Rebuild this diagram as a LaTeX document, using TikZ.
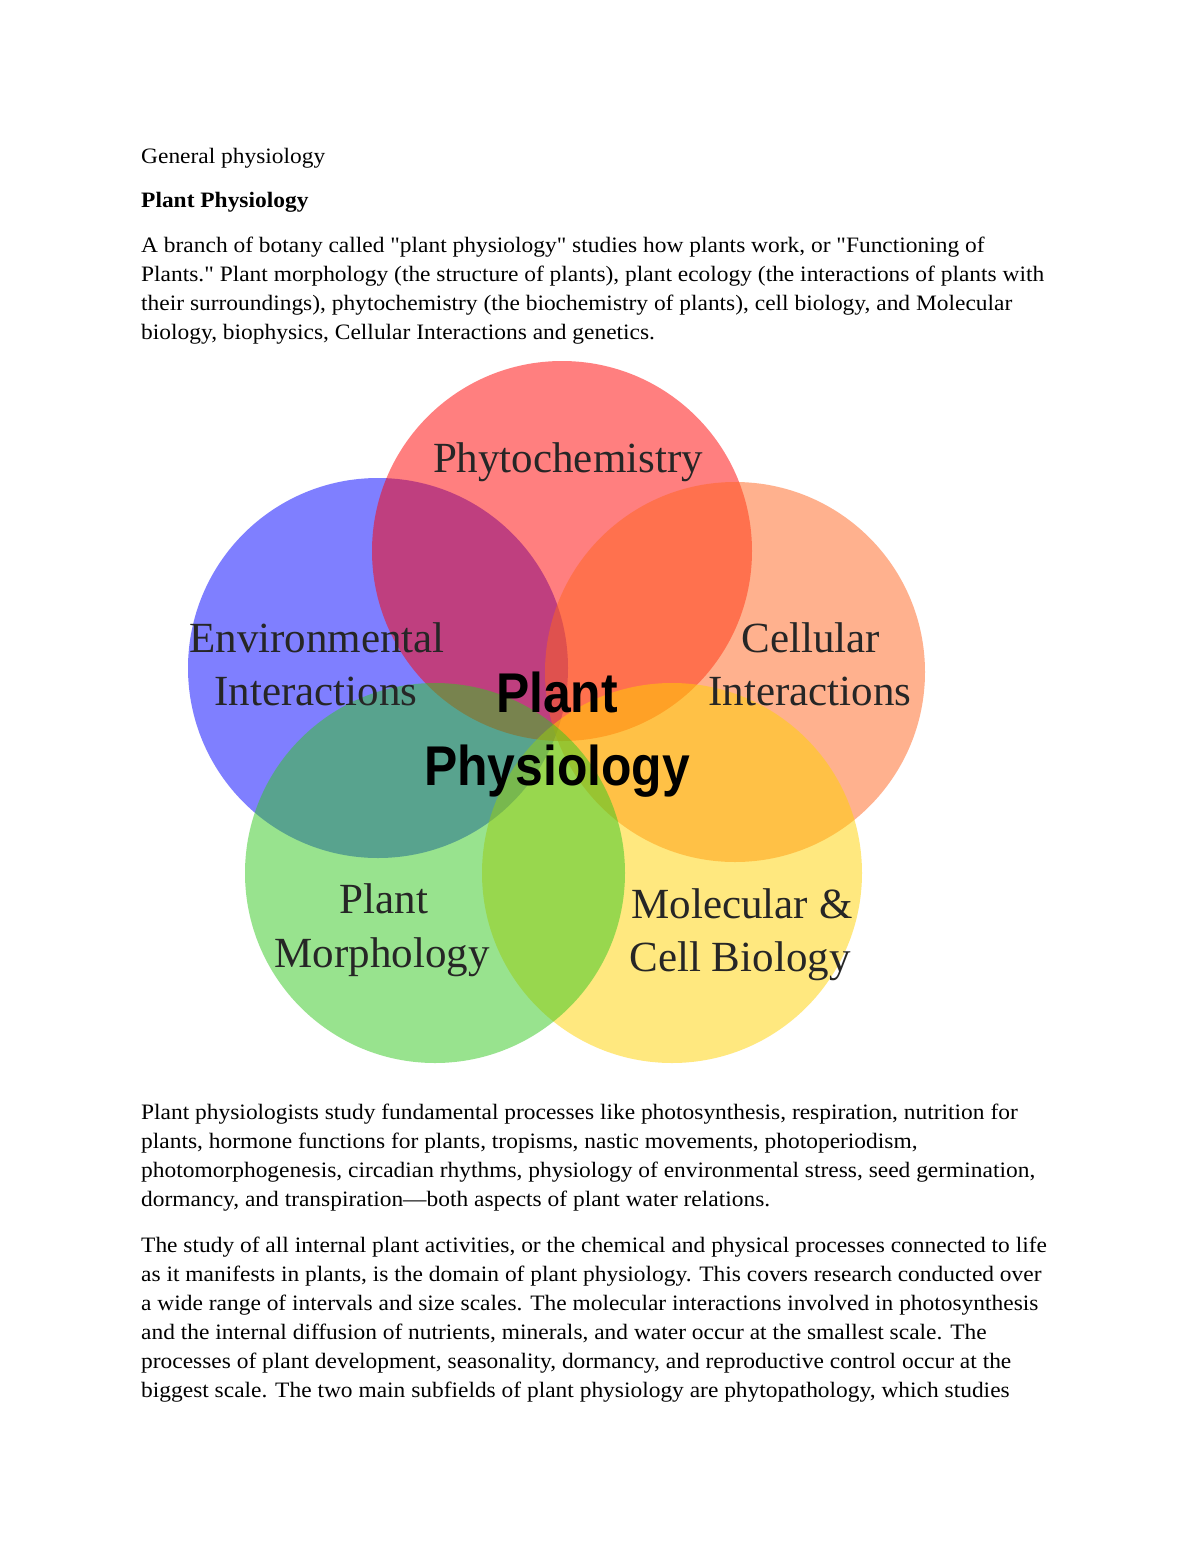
\documentclass[tikz,border=0pt]{standalone}
\usepackage{fontspec}
\setmainfont{Liberation Serif}
\setsansfont{Liberation Sans}
\newfontfamily\qfont{Liberation Serif}[Ligatures=TeXOff]
\newcommand\bl[1]{\scalebox{1.065}[1]{#1}}
\newcommand\dq{{\qfont"}}
\begin{document}
\begin{tikzpicture}[x=1pt,y=-1pt,
  body/.style={anchor=base west, inner sep=0pt, font=\fontsize{22}{26}\selectfont},
  venn/.style={circle, minimum size=380pt, inner sep=0pt, fill opacity=0.5, draw=none},
  lab/.style={anchor=base, inner sep=0pt, font=\fontsize{43}{50}\selectfont, text=black!85},
  core/.style={anchor=base, inner sep=0pt, font=\sffamily\bfseries\fontsize{56}{60}\selectfont}]
\useasboundingbox (0,0) rectangle (1200,1553);
\fill[white] (0,0) rectangle (1200,1553);
% heading text
\node[body] (t1) at (141,163) {\bl{General physiology}};
\node[body, font=\bfseries\fontsize{22}{26}\selectfont] (t2) at (141,207) {\bl{Plant Physiology}};
\node[body] (p1) at (141,252) {\bl{A branch of botany called \dq plant physiology\dq{} studies how plants work, or \dq Functioning of}};
\node[body] (p2) at (141,281) {\bl{Plants.\dq{} Plant morphology (the structure of plants), plant ecology (the interactions of plants with}};
\node[body] (p3) at (141,310) {\bl{their surroundings), phytochemistry (the biochemistry of plants), cell biology, and Molecular}};
\node[body] (p4) at (141,339) {\bl{biology, biophysics, Cellular Interactions and genetics.}};
% venn circles
\node[venn, fill=blue] (cenv) at (378,668) {};
\node[venn, fill=red] (cphyto) at (562,551) {};
\node[venn, fill={rgb,255:red,255;green,100;blue,30}] (ccell) at (735,672) {};
\node[venn, fill={rgb,255:red,255;green,210;blue,0}] (cmol) at (672,873) {};
\node[venn, fill={rgb,255:red,50;green,200;blue,30}] (cmorph) at (435,873) {};
% labels
\node[lab] (lphyto) at (568,472) {Phytochemistry};
\node[lab] (lenv1) at (317,652) {Environmental};
\node[lab] (lenv2) at (316,705) {Interactions};
\node[lab] (lcell1) at (811,652) {Cellular};
\node[lab] (lcell2) at (810,705) {Interactions};
\node[lab] (lmorph1) at (384,913) {Plant};
\node[lab] (lmorph2) at (382,967) {Morphology};
\node[lab] (lmol1) at (742,918) {Molecular \&};
\node[lab] (lmol2) at (740,971) {Cell Biology};
\node[core] (cpl) at (557,712) {\scalebox{0.89}[1]{Plant}};
\node[core] (cphys) at (557,785) {\scalebox{0.89}[1]{Physiology}};
% lower text
\node[body] (q1) at (141,1119) {\bl{Plant physiologists study fundamental processes like photosynthesis, respiration, nutrition for}};
\node[body] (q2) at (141,1148) {\bl{plants, hormone functions for plants, tropisms, nastic movements, photoperiodism,}};
\node[body] (q3) at (141,1177) {\bl{photomorphogenesis, circadian rhythms, physiology of environmental stress, seed germination,}};
\node[body] (q4) at (141,1206) {\bl{dormancy, and transpiration---both aspects of plant water relations.}};
\node[body] (r1) at (141,1252) {\bl{The study of all internal plant activities, or the chemical and physical processes connected to life}};
\node[body] (r2) at (141,1281) {\bl{as it manifests in plants, is the domain of plant physiology. This covers research conducted over}};
\node[body] (r3) at (141,1310) {\bl{a wide range of intervals and size scales. The molecular interactions involved in photosynthesis}};
\node[body] (r4) at (141,1339) {\bl{and the internal diffusion of nutrients, minerals, and water occur at the smallest scale. The}};
\node[body] (r5) at (141,1368) {\bl{processes of plant development, seasonality, dormancy, and reproductive control occur at the}};
\node[body] (r6) at (141,1397) {\bl{biggest scale. The two main subfields of plant physiology are phytopathology, which studies}};
\end{tikzpicture}
\end{document}
